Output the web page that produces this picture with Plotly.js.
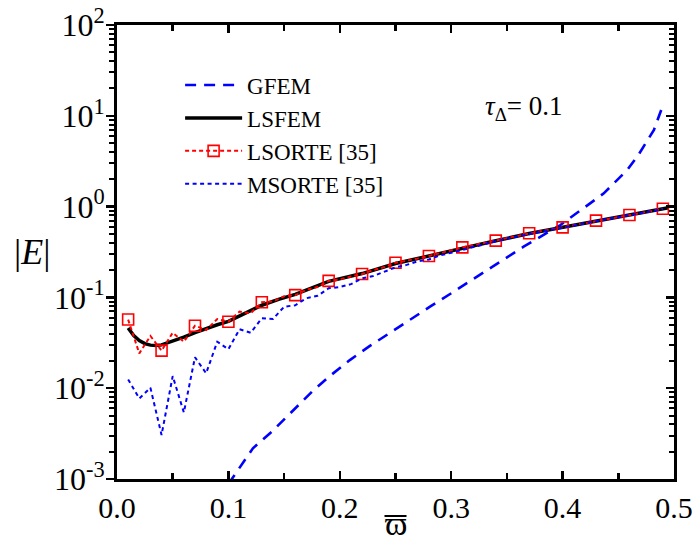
<!DOCTYPE html>
<html><head><meta charset="utf-8">
<script src="https://cdn.plot.ly/plotly-3.0.1.min.js"></script>
<style>html,body{margin:0;padding:0;background:#fff;}#chart{width:699px;height:545px;}</style>
</head><body><div id="chart"></div>
<script>
// ---- data ----
const gfemX = [0.100,0.109,0.122,0.139,0.157,0.175,0.191,0.209,0.227,0.245,0.263,0.281,0.299,0.329,0.365,0.398,0.437,0.458,0.468,0.482,0.490];
const gfemY = [0.00088,0.00128,0.00218,0.00332,0.0055,0.00916,0.0136,0.0204,0.0292,0.041,0.0574,0.079,0.109,0.187,0.362,0.627,1.4,2.53,3.7,7.0,13.0];

const lsfemX = [0.010,0.015,0.020,0.025,0.030,0.035,0.040,0.050,0.060,0.070,0.080,0.090,0.100,0.115,0.130,0.145,0.160,0.190,0.220,0.250,0.280,0.310,0.340,0.370,0.400,0.430,0.460,0.495];
const lsfemY = [0.046,0.038,0.0335,0.031,0.0298,0.0295,0.0300,0.0330,0.0365,0.0410,0.0455,0.0500,0.0545,0.0670,0.0820,0.0950,0.1080,0.1500,0.1830,0.2360,0.2860,0.3520,0.4200,0.5050,0.5900,0.6950,0.8050,0.9700];

const orteX = [0.01,0.02,0.03,0.04,0.05,0.06,0.07,0.08,0.09,0.10,0.11,0.12,0.13,0.14,0.15,0.16,0.17,0.18,0.19,0.20,0.21,0.22,0.23,0.24,0.25,0.26,0.27,0.28,0.29,0.30,0.31,0.32,0.33,0.34,0.35,0.36,0.37,0.38,0.39,0.40,0.41,0.42,0.43,0.44,0.45,0.46,0.47,0.48,0.49];
const lsorteY = [0.057,0.0242,0.0376,0.0259,0.0408,0.0325,0.0488,0.0437,0.0578,0.054,0.0697,0.0668,0.0883,0.090,0.103,0.106,0.121,0.130,0.152,0.158,0.170,0.181,0.200,0.216,0.241,0.252,0.268,0.286,0.310,0.330,0.356,0.375,0.398,0.422,0.450,0.478,0.508,0.535,0.562,0.591,0.625,0.660,0.700,0.735,0.770,0.807,0.850,0.895,0.948];
const msorteY = [0.0125,0.0077,0.0101,0.00305,0.0136,0.0054,0.0219,0.0146,0.0325,0.0268,0.0446,0.0408,0.0589,0.0578,0.079,0.082,0.098,0.104,0.126,0.130,0.140,0.162,0.172,0.190,0.214,0.228,0.250,0.262,0.290,0.310,0.335,0.360,0.390,0.415,0.445,0.472,0.500,0.528,0.556,0.585,0.620,0.655,0.695,0.730,0.765,0.800,0.845,0.890,0.940];

const seriesNames = ['GFEM','LSFEM','LSORTE [35]','MSORTE [35]'];
const yTickVals = [0.001,0.01,0.1,1,10,100];
const yTickText = ['10<sup>-3</sup>','10<sup>-2</sup>','10<sup>-1</sup>','10<sup>0</sup>','10<sup>1</sup>','10<sup>2</sup>'];
const xTickVals = [0,0.1,0.2,0.3,0.4,0.5];
const xTickText = ['0.0','0.1','0.2','0.3','0.4','0.5'];

// ---- styling ----
const serif = 'Liberation Serif, Times New Roman, serif';
const minorY = [];
for (let k = -3; k < 2; k++) for (let d = 2; d <= 9; d++) minorY.push(d * Math.pow(10, k));
const squareColors = orteX.map((x, i) => (i % 3 === 0 ? '#ff0000' : 'rgba(0,0,0,0)'));

const traces = [
  {x: gfemX, y: gfemY, name: seriesNames[0], mode: 'lines',
   line: {color: '#0000ff', width: 2.6, dash: '11px,8px'}},
  {x: lsfemX, y: lsfemY, name: seriesNames[1], mode: 'lines',
   line: {color: '#000000', width: 3.5}},
  {x: orteX, y: lsorteY, name: seriesNames[2], mode: 'lines+markers',
   line: {color: '#ff0000', width: 2, dash: '4px,3px'},
   marker: {symbol: 'square-open', size: 11, color: squareColors, line: {width: 1.6}}},
  {x: orteX, y: msorteY, name: seriesNames[3], mode: 'lines',
   line: {color: '#0000ff', width: 2, dash: '4px,3.5px'}},
  {x: [null], y: [null], yaxis: 'y2', showlegend: false, hoverinfo: 'skip', mode: 'lines'}
];

const axFont = {family: serif, color: '#000'};
const layout = {
  width: 699, height: 545,
  margin: {l: 117, r: 25, t: 25, b: 66},
  paper_bgcolor: '#fff', plot_bgcolor: '#fff',
  showlegend: true,
  font: {family: serif, color: '#000'},
  xaxis: {
    range: [0, 0.5], tickmode: 'array', tickvals: xTickVals, ticktext: xTickText,
    ticks: 'inside', ticklen: 8, tickwidth: 2.5, tickcolor: '#000',
    showline: true, linewidth: 3, linecolor: '#000', mirror: 'ticks',
    showgrid: false, zeroline: false,
    tickfont: Object.assign({size: 30}, axFont),
    minor: {tickmode: 'linear', tick0: 0, dtick: 0.05, ticks: 'inside', ticklen: 6,
            tickwidth: 2.5, tickcolor: '#000', showgrid: false}
  },
  yaxis: {
    type: 'log', range: [-3, 2], tickmode: 'array', tickvals: yTickVals, ticktext: yTickText,
    ticks: 'outside', ticklen: 8, tickwidth: 2.5, tickcolor: '#000', ticklabelstandoff: -5,
    showline: true, linewidth: 3, linecolor: '#000', mirror: true,
    showgrid: false, zeroline: false,
    tickfont: Object.assign({size: 32}, axFont),
    minor: {tickmode: 'array', tickvals: minorY, ticks: 'outside', ticklen: 5,
            tickwidth: 2, tickcolor: '#000', showgrid: false}
  },
  yaxis2: {
    type: 'log', range: [-3, 2], overlaying: 'y', side: 'right',
    tickmode: 'array', tickvals: yTickVals, showticklabels: false,
    ticks: 'inside', ticklen: 8, tickwidth: 2.5, tickcolor: '#000',
    showline: false, showgrid: false, zeroline: false,
    minor: {tickmode: 'array', tickvals: minorY, ticks: 'inside', ticklen: 5,
            tickwidth: 2, tickcolor: '#000', showgrid: false}
  },
  legend: {
    x: 0.1133, y: 0.915, xanchor: 'left', yanchor: 'top',
    bgcolor: 'rgba(0,0,0,0)', borderwidth: 0,
    font: {family: serif, size: 23, color: '#000'},
    itemwidth: 57, tracegroupgap: 0
  },
  annotations: [
    {text: '|<i>E</i>|', xref: 'paper', yref: 'paper', x: -0.153, y: 0.5,
     xanchor: 'center', yanchor: 'middle', showarrow: false,
     font: {family: serif, size: 36, color: '#000'}},
    {text: 'ϖ', xref: 'paper', yref: 'paper', x: 0.5, y: -0.1432,
     xanchor: 'center', yanchor: 'bottom', showarrow: false,
     font: {family: serif, size: 34, color: '#000'}},
    {text: '<i>τ</i><sub>Δ</sub>= 0.1', xref: 'x', yref: 'paper', x: 0.365, y: 0.817,
     xanchor: 'center', yanchor: 'middle', showarrow: false,
     font: {family: serif, size: 27, color: '#000'}}
  ],
  shapes: [
    // overline bar of the x-axis symbol
    {type: 'line', xref: 'paper', yref: 'paper', x0: 0.5 - 11/556, x1: 0.5 + 11/556,
     y0: -0.0815, y1: -0.0815, line: {color: '#000', width: 2}}
  ]
};

Plotly.newPlot('chart', traces, layout, {displayModeBar: false, staticPlot: true});
</script>
</body></html>
